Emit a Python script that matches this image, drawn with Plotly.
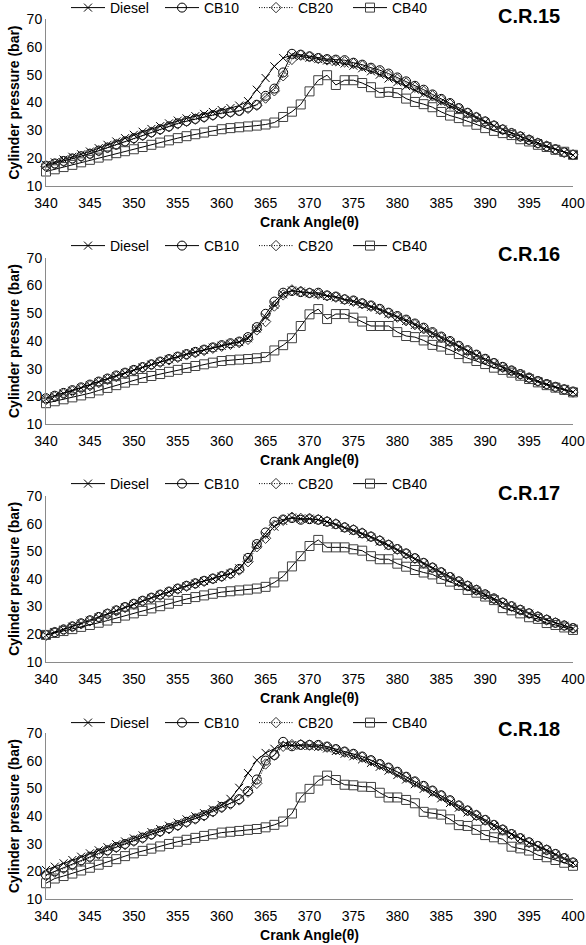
import plotly.graph_objects as go

crank_angle = list(range(340, 401))
series_names = ["Diesel", "CB10", "CB20", "CB40"]
panel_titles = ["C.R.15", "C.R.16", "C.R.17", "C.R.18"]
x_ticks = [340, 345, 350, 355, 360, 365, 370, 375, 380, 385, 390, 395, 400]
y_ticks = [10, 20, 30, 40, 50, 60, 70]

# ---- C.R.15 ----
cr15_diesel = [17.6, 18.5, 19.5, 20.5, 21.4, 22.4, 23.6, 24.8, 26.0, 27.2, 28.4, 29.5, 30.5, 31.5, 32.5, 33.5,
               34.3, 35.1, 35.9, 36.6, 37.3, 38.0, 38.9, 40.5, 44.6, 48.8, 53.0, 56.0, 57.0, 56.6, 56.1, 55.6,
               55.1, 54.6, 54.0, 53.2, 52.3, 51.2, 50.0, 48.6, 47.3, 45.9, 44.6, 43.1, 41.7, 40.2, 38.8, 37.3,
               35.8, 34.4, 33.0, 31.6, 30.3, 29.0, 27.8, 26.6, 25.4, 24.3, 23.2, 22.1, 21.1]
cr15_cb10 = [17.3, 18.1, 19.0, 19.9, 20.7, 21.6, 22.7, 23.8, 24.9, 26.0, 27.2, 28.3, 29.3, 30.4, 31.4, 32.5,
             33.3, 34.1, 34.8, 35.5, 36.2, 36.6, 37.0, 38.2, 39.2, 42.4, 45.0, 50.8, 57.5, 57.2, 56.6, 56.0,
             55.6, 55.4, 55.2, 54.3, 53.6, 52.5, 51.6, 50.4, 49.0, 47.6, 46.0, 44.6, 42.9, 41.3, 39.8, 38.0,
             36.3, 34.7, 33.2, 31.7, 30.3, 29.0, 27.8, 26.6, 25.4, 24.3, 23.2, 22.1, 21.2]
cr15_cb20 = [17.0, 17.9, 18.8, 19.7, 20.6, 21.5, 22.6, 23.7, 24.8, 25.9, 27.0, 28.1, 29.2, 30.2, 31.3, 32.3,
             33.2, 34.0, 34.7, 35.4, 36.0, 36.5, 37.0, 37.9, 39.0, 41.6, 44.2, 49.6, 55.5, 57.0, 56.4, 55.8,
             55.3, 55.0, 54.6, 54.0, 53.2, 52.1, 51.0, 49.8, 48.4, 47.0, 45.5, 44.0, 42.4, 40.9, 39.4, 37.8,
             36.2, 34.6, 33.1, 31.7, 30.3, 29.0, 27.8, 26.6, 25.4, 24.3, 23.2, 22.1, 21.2]
cr15_cb40 = [15.2, 16.0, 16.8, 17.6, 18.5, 19.4, 20.2, 21.0, 21.8, 22.5, 23.2, 24.0, 24.8, 25.6, 26.4, 27.2,
             27.9, 28.6, 29.2, 29.8, 30.4, 30.8, 31.1, 31.4, 31.7, 32.1, 32.8, 34.8, 36.7, 39.3, 44.0, 48.0,
             49.8, 46.3, 48.0, 48.0, 47.0, 45.5, 43.5, 43.8, 43.4, 41.4, 40.2, 39.4, 38.3, 36.6, 35.3, 34.4,
             33.2, 32.0, 30.8, 29.8, 29.0, 28.3, 26.8, 26.0, 24.8, 24.0, 23.0, 22.3, 21.2]

# ---- C.R.16 ----
cr16_diesel = [19.2, 20.1, 21.1, 22.1, 23.1, 24.1, 25.2, 26.3, 27.4, 28.5, 29.5, 30.5, 31.5, 32.5, 33.4, 34.3,
               35.2, 36.0, 36.8, 37.6, 38.3, 39.0, 39.6, 41.0, 44.5, 48.6, 53.0, 56.8, 58.2, 57.8, 57.2, 56.8,
               56.2, 55.7, 54.8, 54.2, 53.2, 52.3, 51.2, 49.8, 48.5, 47.2, 45.8, 44.2, 42.6, 41.0, 39.4, 37.8,
               36.2, 34.7, 33.2, 31.8, 30.4, 29.1, 27.9, 26.7, 25.5, 24.4, 23.4, 22.5, 21.6]
cr16_cb10 = [19.4, 20.3, 21.3, 22.3, 23.3, 24.3, 25.4, 26.5, 27.6, 28.6, 29.6, 30.6, 31.6, 32.6, 33.5, 34.4,
             35.3, 36.1, 36.9, 37.7, 38.5, 39.2, 39.8, 41.4, 45.0, 49.8, 54.2, 57.4, 58.0, 57.6, 57.3, 57.4,
             56.4, 56.0, 55.0, 54.6, 53.6, 52.8, 51.6, 50.2, 49.0, 47.7, 46.3, 44.8, 43.2, 41.6, 40.0, 38.3,
             36.7, 35.1, 33.6, 32.1, 30.7, 29.4, 28.1, 26.8, 25.6, 24.5, 23.5, 22.6, 21.8]
cr16_cb20 = [18.9, 19.9, 20.9, 21.9, 22.9, 23.9, 25.0, 26.1, 27.2, 28.3, 29.3, 30.4, 31.4, 32.3, 33.2, 34.1,
             35.0, 35.8, 36.6, 37.4, 38.1, 38.8, 39.4, 40.6, 44.0, 47.0, 52.6, 56.6, 58.4, 57.9, 57.3, 56.9,
             56.3, 55.8, 55.0, 54.3, 53.4, 52.5, 51.3, 50.0, 48.6, 47.3, 45.9, 44.4, 42.8, 41.2, 39.6, 38.0,
             36.4, 34.8, 33.3, 31.9, 30.5, 29.2, 28.0, 26.7, 25.5, 24.4, 23.4, 22.5, 21.6]
cr16_cb40 = [17.6, 18.3, 19.0, 19.7, 20.4, 21.2, 22.2, 23.1, 24.1, 25.0, 25.9, 26.7, 27.4, 28.1, 28.9, 29.6,
             30.3, 31.0, 31.6, 32.2, 32.8, 33.1, 33.3, 33.5, 33.8, 34.2, 36.6, 38.5, 41.0, 45.4, 49.6, 51.5,
             47.9, 49.7, 49.7, 48.4, 47.0, 45.4, 45.4, 45.4, 43.2, 41.8, 41.4, 40.2, 38.6, 38.0, 36.8, 35.3,
             33.8, 32.8, 31.7, 30.4, 29.6, 28.6, 27.5, 26.3, 25.1, 24.1, 23.2, 22.4, 21.5]

# ---- C.R.17 ----
cr17_diesel = [19.6, 20.6, 21.6, 22.7, 23.8, 24.9, 26.1, 27.3, 28.5, 29.7, 30.9, 32.0, 33.1, 34.2, 35.3, 36.4,
               37.4, 38.3, 39.2, 40.0, 40.9, 41.9, 43.8, 47.4, 52.4, 55.6, 58.9, 61.0, 62.2, 61.8, 61.8, 61.4,
               60.6, 59.6, 58.4, 57.4, 56.2, 55.0, 53.5, 52.0, 50.4, 48.8, 47.1, 45.4, 43.7, 42.0, 40.4, 38.8,
               37.2, 35.7, 34.1, 32.6, 31.2, 29.9, 28.6, 27.4, 26.2, 25.1, 24.0, 23.0, 22.0]
cr17_cb10 = [19.7, 20.7, 21.7, 22.8, 23.9, 25.0, 26.2, 27.4, 28.6, 29.8, 31.0, 32.1, 33.2, 34.3, 35.4, 36.5,
             37.5, 38.4, 39.3, 40.1, 41.0, 42.0, 43.6, 47.6, 52.6, 56.8, 60.7, 61.5, 62.0, 61.4, 61.6, 61.4,
             60.7, 59.8, 58.6, 57.7, 56.5, 55.3, 53.8, 52.3, 50.8, 49.2, 47.5, 45.8, 44.1, 42.4, 40.7, 39.1,
             37.5, 36.0, 34.4, 32.9, 31.4, 30.1, 28.8, 27.5, 26.3, 25.2, 24.1, 23.1, 22.2]
cr17_cb20 = [19.5, 20.5, 21.5, 22.6, 23.7, 24.8, 26.0, 27.2, 28.4, 29.6, 30.8, 31.9, 33.0, 34.1, 35.2, 36.3,
             37.3, 38.2, 39.1, 40.0, 40.8, 41.8, 43.2, 46.2, 51.6, 54.7, 59.4, 61.2, 62.3, 61.9, 61.9, 61.5,
             60.8, 59.9, 58.7, 57.8, 56.6, 55.3, 53.9, 52.3, 50.7, 49.1, 47.4, 45.7, 44.0, 42.3, 40.6, 39.0,
             37.4, 35.9, 34.3, 32.8, 31.3, 30.0, 28.7, 27.5, 26.3, 25.2, 24.1, 23.1, 22.1]
cr17_cb40 = [19.7, 20.4, 21.1, 21.8, 22.6, 23.3, 24.1, 24.9, 25.8, 26.7, 27.5, 28.4, 29.3, 30.1, 31.0, 32.0,
             32.7, 33.4, 34.0, 34.6, 35.2, 35.5, 35.8, 36.1, 36.5, 37.1, 38.7, 40.9, 44.5, 48.2, 51.9, 54.1,
             51.4, 51.4, 51.4, 50.7, 50.2, 48.2, 47.1, 47.1, 45.5, 44.4, 43.2, 42.3, 41.6, 40.0, 39.0, 37.8,
             36.0, 35.0, 33.6, 32.3, 29.4, 28.6, 27.5, 26.1, 25.5, 24.0, 23.3, 22.4, 21.5]

# ---- C.R.18 ----
cr18_diesel = [20.5, 21.7, 22.9, 24.1, 25.3, 26.5, 27.6, 28.7, 29.8, 30.8, 31.9, 33.0, 34.2, 35.3, 36.5, 37.6,
               38.8, 39.9, 41.0, 42.4, 44.0, 46.2, 50.2, 55.5, 60.2, 62.8, 64.3, 65.4, 65.6, 65.4, 65.3, 65.0,
               64.4, 63.5, 62.5, 61.6, 60.5, 59.2, 57.8, 56.4, 54.8, 53.2, 51.5, 49.8, 48.1, 46.4, 44.7, 43.0,
               41.3, 39.7, 38.0, 36.4, 34.8, 33.3, 31.8, 30.3, 28.9, 27.5, 26.0, 24.6, 23.0]
cr18_cb10 = [18.7, 20.0, 21.3, 22.6, 24.0, 25.3, 26.5, 27.6, 28.8, 29.9, 31.1, 32.2, 33.4, 34.5, 35.6, 36.7,
             37.9, 39.1, 40.3, 41.7, 43.3, 44.6, 46.1, 49.0, 53.2, 60.0, 62.0, 66.8, 65.2, 65.7, 65.7, 65.7,
             65.1, 64.2, 63.3, 62.5, 61.5, 60.2, 58.8, 57.5, 56.0, 54.2, 52.5, 50.9, 49.2, 47.5, 45.7, 43.8,
             42.0, 40.3, 38.6, 36.8, 35.1, 33.5, 32.0, 30.5, 29.2, 27.8, 26.3, 24.8, 23.2]
cr18_cb20 = [18.4, 19.7, 21.0, 22.3, 23.7, 25.0, 26.2, 27.4, 28.6, 29.7, 30.9, 32.0, 33.2, 34.3, 35.4, 36.5,
             37.7, 38.9, 40.1, 41.5, 43.0, 44.3, 45.8, 48.6, 51.8, 58.8, 62.0, 65.2, 65.8, 65.8, 65.6, 65.4,
             64.9, 64.0, 63.1, 62.3, 61.3, 60.0, 58.6, 57.3, 55.8, 54.0, 52.3, 50.7, 49.0, 47.3, 45.5, 43.7,
             41.9, 40.2, 38.5, 36.7, 35.0, 33.4, 31.9, 30.4, 29.1, 27.7, 26.2, 24.7, 23.1]
cr18_cb40 = [15.7, 17.4, 18.3, 19.2, 20.3, 21.3, 22.4, 23.4, 24.4, 25.5, 26.5, 27.4, 28.2, 29.0, 29.9, 30.7,
             31.4, 32.1, 32.8, 33.4, 34.0, 34.3, 34.6, 35.0, 35.3, 35.9, 36.8, 38.0, 40.9, 46.7, 49.8, 52.8,
             54.6, 53.0, 51.3, 51.1, 50.6, 50.5, 48.4, 46.7, 46.7, 45.8, 44.6, 41.5, 40.9, 40.5, 38.8, 36.7,
             36.4, 35.0, 33.1, 32.3, 31.6, 28.9, 28.3, 27.5, 25.9, 25.1, 24.1, 23.1, 22.0]

panels = [
    [cr15_diesel, cr15_cb10, cr15_cb20, cr15_cb40],
    [cr16_diesel, cr16_cb10, cr16_cb20, cr16_cb40],
    [cr17_diesel, cr17_cb10, cr17_cb20, cr17_cb40],
    [cr18_diesel, cr18_cb10, cr18_cb20, cr18_cb40],
]

W, H = 586, 945
ML, MR = 46, 13
PW = W - ML - MR
# pixel rows of each plot area (top = 70 bar, bottom = 10 bar)
plot_rows = [(19, 186), (257.7, 424.3), (496, 661.7), (733, 899)]
legend_rows = [8, 246, 484, 723]
title_rows = [16, 254, 493, 729]

FONT = "Liberation Sans, Arial, sans-serif"
AXIS_COLOR = "#8a8a8a"

styles = [
    dict(line=dict(color="black", width=1, dash="solid"),
         marker=dict(symbol="x-thin", size=8, color="black", line=dict(color="black", width=1))),
    dict(line=dict(color="black", width=1, dash="solid"),
         marker=dict(symbol="circle-open", size=9, color="black", line=dict(color="black", width=1))),
    dict(line=dict(color="black", width=1, dash="1px,1.5px"),
         marker=dict(symbol="diamond-open", size=8, color="#303030", line=dict(color="#303030", width=1))),
    dict(line=dict(color="black", width=1, dash="solid"),
         marker=dict(symbol="square-open", size=9, color="#404040", line=dict(color="#404040", width=1))),
]

fig = go.Figure()
layout = dict(
    width=W, height=H,
    margin=dict(l=ML, r=MR, t=0, b=0, autoexpand=False),
    paper_bgcolor="white", plot_bgcolor="white",
    font=dict(family=FONT, size=14, color="black"),
    showlegend=True,
)
annotations = []

for p, series in enumerate(panels):
    idx = "" if p == 0 else str(p + 1)
    top, bot = plot_rows[p]
    legend_name = "legend" + idx
    for s, (name, vals) in enumerate(zip(series_names, series)):
        st = styles[s]
        fig.add_trace(go.Scatter(
            x=crank_angle, y=vals, name=name, mode="lines+markers",
            line=st["line"], marker=st["marker"],
            xaxis="x" + idx, yaxis="y" + idx, legend=legend_name,
            cliponaxis=False,
        ))
    layout["xaxis" + idx] = dict(
        domain=[0, 1], anchor="y" + idx, range=[340, 400],
        tickmode="array", tickvals=x_ticks, automargin=False,
        showgrid=False, zeroline=False, showline=True, linecolor=AXIS_COLOR, linewidth=1,
        ticks="", ticklabelstandoff=4, tickfont=dict(size=14, color="black"),
        title=dict(text="<b>Crank Angle(θ)</b>", font=dict(size=14, color="black"), standoff=7),
    )
    layout["yaxis" + idx] = dict(
        domain=[1 - bot / H, 1 - top / H], anchor="x" + idx, range=[10, 70],
        tickmode="array", tickvals=y_ticks, automargin=False,
        showgrid=False, zeroline=False, showline=True, linecolor=AXIS_COLOR, linewidth=1,
        ticks="", tickfont=dict(size=14, color="black"),
        title=dict(text="<b>Cylinder pressure (bar)</b>", font=dict(size=14, color="black"), standoff=3),
    )
    layout[legend_name] = dict(
        orientation="h", x=(66 - ML) / PW, xanchor="left",
        y=1 - legend_rows[p] / H, yanchor="middle",
        bgcolor="rgba(0,0,0,0)", borderwidth=0,
        font=dict(size=14, color="black"), itemwidth=34, entrywidth=45,
    )
    annotations.append(dict(
        text="<b>" + panel_titles[p] + "</b>", xref="paper", yref="paper",
        x=(529 - ML) / PW, y=1 - title_rows[p] / H,
        xanchor="center", yanchor="middle", showarrow=False,
        font=dict(size=20, color="black", family=FONT),
    ))

layout["annotations"] = annotations
fig.update_layout(**layout)
fig.write_html("out.html", config={"displayModeBar": False},
               post_script="document.body.style.margin='0px';")
